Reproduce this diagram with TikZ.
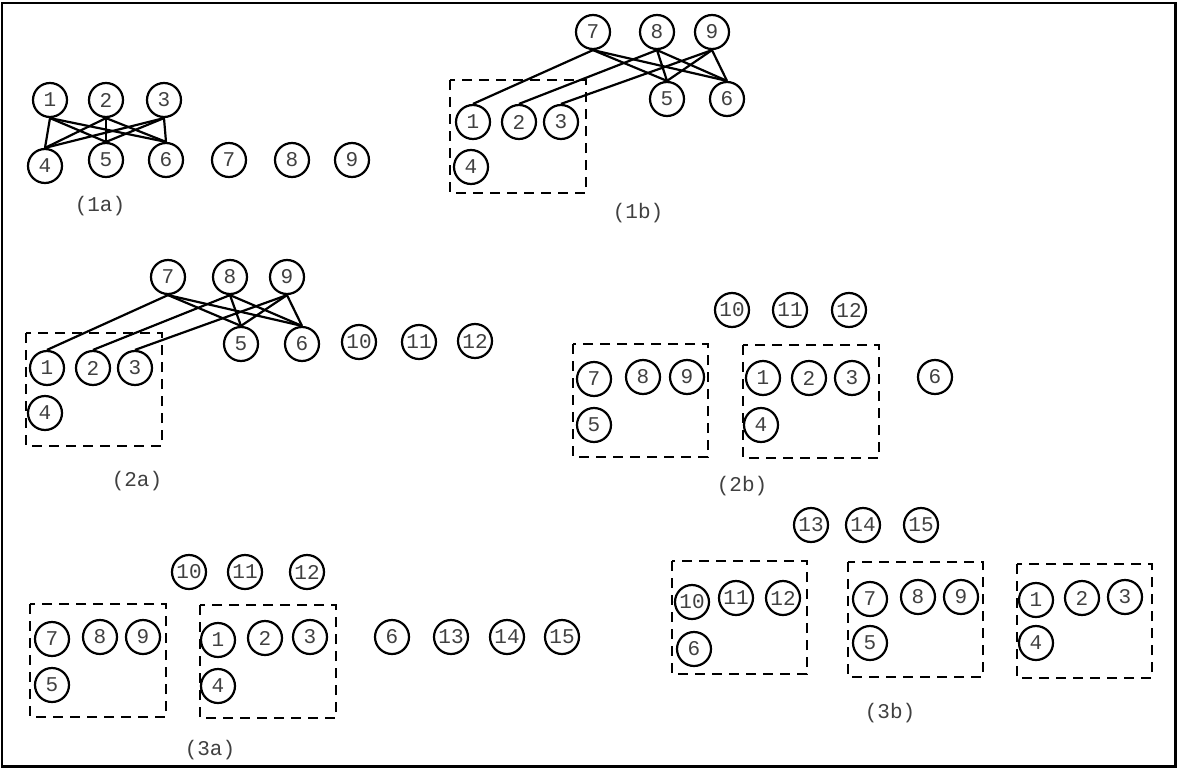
\documentclass[tikz,border=0pt]{standalone}
\usepackage{fontspec}
\newfontfamily\monofnt{Liberation Mono}
\begin{document}
\begin{tikzpicture}[x=1pt,y=-1pt,
  vtx/.style={circle,draw,line width=2.2pt,minimum size=34pt,inner sep=0pt,text=black!75,font=\monofnt\fontsize{21}{21}\selectfont},
  grp/.style={draw,line width=2.4pt,dash pattern=on 10pt off 7pt},
  lbl/.style={font=\monofnt\fontsize{21}{21}\selectfont,text=black!75,inner sep=0pt},
  edge/.style={line width=2.2pt}]
\useasboundingbox (0,0) rectangle (1177,768);
\draw[line width=2.2pt] (2,3) rectangle (1175.5,766.5);

% ---------- (1a)
\node[vtx] (a1) at (50,100) {1};
\node[vtx] (a2) at (106,100) {2};
\node[vtx] (a3) at (164,100) {3};
\node[vtx] (a4) at (45,166) {4};
\node[vtx] (a5) at (106,160) {5};
\node[vtx] (a6) at (166,160) {6};
\node[vtx] (a7) at (229,160) {7};
\node[vtx] (a8) at (292,160) {8};
\node[vtx] (a9) at (352,160) {9};
\foreach \s in {a1,a2,a3}{\foreach \t in {a4,a5,a6}{\draw[edge] (\s.south) -- (\t.north);}}
\node[lbl] (la) at (100,206) {(1a)};

% ---------- (1b)
\node[vtx] (b7) at (593,32) {7};
\node[vtx] (b8) at (657,32) {8};
\node[vtx] (b9) at (712,32) {9};
\node[vtx] (b5) at (667,99) {5};
\node[vtx] (b6) at (727,99) {6};
\node[vtx] (b1) at (473,122) {1};
\node[vtx] (b2) at (519,122) {2};
\node[vtx] (b3) at (561,122) {3};
\node[vtx] (b4) at (471,167) {4};
\draw[grp] (450,80) rectangle (586,193);
\draw[edge] (b7.south) -- (b1.north);
\draw[edge] (b8.south) -- (b2.north);
\draw[edge] (b9.south) -- (b3.north);
\foreach \s in {b7,b8,b9}{\foreach \t in {b5,b6}{\draw[edge] (\s.south) -- (\t.north);}}
\node[lbl] (lb) at (638,213) {(1b)};

% ---------- (2a)
\node[vtx] (c7) at (168,277) {7};
\node[vtx] (c8) at (230,277) {8};
\node[vtx] (c9) at (287,277) {9};
\node[vtx] (c5) at (241,344) {5};
\node[vtx] (c6) at (302,344) {6};
\node[vtx] (c10) at (359,342) {10};
\node[vtx] (c11) at (419,342) {11};
\node[vtx] (c12) at (475,341) {12};
\node[vtx] (c1) at (47,368) {1};
\node[vtx] (c2) at (93,368) {2};
\node[vtx] (c3) at (135,368) {3};
\node[vtx] (c4) at (45,413) {4};
\draw[grp] (26,333) rectangle (162,446);
\draw[edge] (c7.south) -- (c1.north);
\draw[edge] (c8.south) -- (c2.north);
\draw[edge] (c9.south) -- (c3.north);
\foreach \s in {c7,c8,c9}{\foreach \t in {c5,c6}{\draw[edge] (\s.south) -- (\t.north);}}
\node[lbl] (lc) at (137,481) {(2a)};

% ---------- (2b)
\node[vtx] (d10) at (732,310) {10};
\node[vtx] (d11) at (790,310) {11};
\node[vtx] (d12) at (849,310) {12};
\draw[grp] (573,344) rectangle (708,457);
\node[vtx] (d7) at (594,379) {7};
\node[vtx] (d8) at (643,377) {8};
\node[vtx] (d9) at (687,377) {9};
\node[vtx] (d5) at (594,425) {5};
\draw[grp] (743,345) rectangle (879,458);
\node[vtx] (d1) at (763,378) {1};
\node[vtx] (d2) at (809,378) {2};
\node[vtx] (d3) at (852,378) {3};
\node[vtx] (d4) at (761,425) {4};
\node[vtx] (d6) at (935,377) {6};
\node[lbl] (ld) at (742,486) {(2b)};

% ---------- (3a)
\node[vtx] (e10) at (189,572) {10};
\node[vtx] (e11) at (245,572) {11};
\node[vtx] (e12) at (307,572) {12};
\draw[grp] (30,604) rectangle (166,717);
\node[vtx] (e7) at (52,639) {7};
\node[vtx] (e8) at (100,637) {8};
\node[vtx] (e9) at (143,637) {9};
\node[vtx] (e5) at (52,685) {5};
\draw[grp] (200,605) rectangle (336,718);
\node[vtx] (e1) at (218,640) {1};
\node[vtx] (e2) at (265,638) {2};
\node[vtx] (e3) at (310,637) {3};
\node[vtx] (e4) at (218,686) {4};
\node[vtx] (e6) at (392,637) {6};
\node[vtx] (e13) at (451,637) {13};
\node[vtx] (e14) at (507,637) {14};
\node[vtx] (e15) at (562,637) {15};
\node[lbl] (le) at (210,750) {(3a)};

% ---------- (3b)
\node[vtx] (f13) at (811,525) {13};
\node[vtx] (f14) at (863,525) {14};
\node[vtx] (f15) at (921,525) {15};
\draw[grp] (672,561) rectangle (807,674);
\node[vtx] (f10) at (692,602) {10};
\node[vtx] (f11) at (736,598) {11};
\node[vtx] (f12) at (783,598) {12};
\node[vtx] (f6) at (694,649) {6};
\draw[grp] (848,562) rectangle (983,677);
\node[vtx] (f7) at (870,599) {7};
\node[vtx] (f8) at (918,597) {8};
\node[vtx] (f9) at (961,597) {9};
\node[vtx] (f5) at (870,643) {5};
\draw[grp] (1017,564) rectangle (1152,678);
\node[vtx] (f1) at (1036,600) {1};
\node[vtx] (f2) at (1082,598) {2};
\node[vtx] (f3) at (1125,597) {3};
\node[vtx] (f4) at (1036,643) {4};
\node[lbl] (lf) at (890,713) {(3b)};
\end{tikzpicture}
\end{document}
